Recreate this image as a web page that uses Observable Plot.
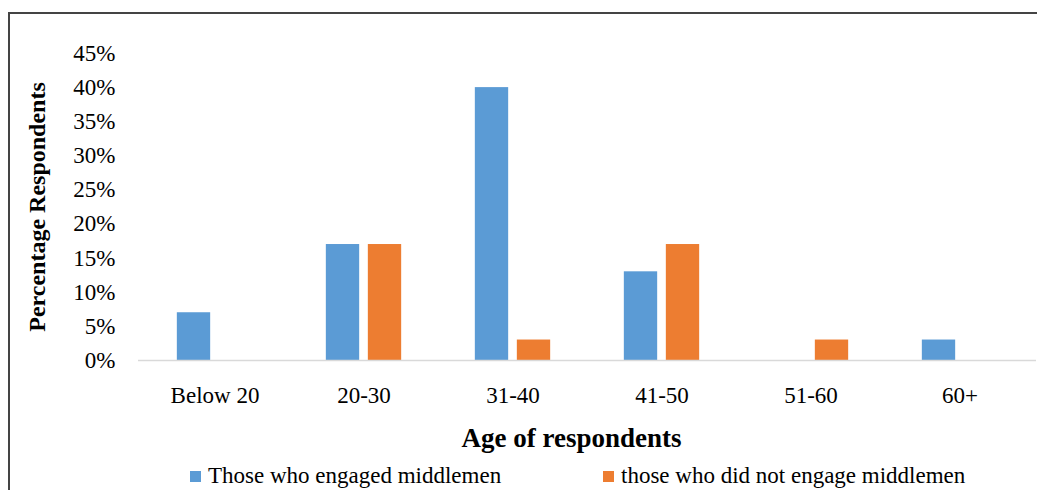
<!DOCTYPE html>
<html>
<head>
<meta charset="utf-8">
<script src="https://cdn.jsdelivr.net/npm/d3@7"></script>
<script src="https://cdn.jsdelivr.net/npm/@observablehq/plot@0.6"></script>
<style>
  html, body { margin: 0; padding: 0; background: #fff; overflow: hidden; }
  #wrap { position: relative; width: 1037px; height: 490px; overflow: hidden; font-family: "Liberation Serif", "Times New Roman", serif; }
  #frame { position: absolute; left: 8px; top: 12px; width: 1100px; height: 600px; border: 2.5px solid #444; box-sizing: border-box; pointer-events: none; }
  #chart { position: absolute; left: 0; top: 0; }
  #chart g[aria-label="x-axis label"] { translate: -16px 0; }
  #chart g[aria-label="x-axis label"] text { font-weight: bold; font-size: 27px !important; }
  #chart g[aria-label="y-axis label"] text { font-weight: bold; font-size: 24px !important; }
  #legend { position: absolute; top: 463px; left: 0; width: 1037px; height: 30px; font-size: 23px; color: #000; }
  .item { position: absolute; display: flex; align-items: center; white-space: nowrap; }
  .sw { width: 11px; height: 11px; margin-right: 7px; }
</style>
</head>
<body>
<div id="wrap">
  <div id="chart"></div>
  <div id="legend"></div>
  <div id="frame"></div>
</div>
<script>
const ages = ["Below 20", "20-30", "31-40", "41-50", "51-60", "60+"];
const seriesNames = ["Those who engaged middlemen", "those who did not engage middlemen"];
const engaged = [0.07, 0.17, 0.40, 0.13, 0, 0.03];
const notEngaged = [0, 0.17, 0.03, 0.17, 0.03, 0];
const yTicks = [0, 0.05, 0.10, 0.15, 0.20, 0.25, 0.30, 0.35, 0.40, 0.45];
const colors = ["#5b9bd5", "#ed7d31"];

const W = 1037, ML = 138, MR = 1;
const bw = (W - ML - MR) / ages.length;
const barW = 34, gap = 8;

const rowsA = ages.map((a, i) => ({age: a, value: engaged[i], series: seriesNames[0]}));
const rowsB = ages.map((a, i) => ({age: a, value: notEngaged[i], series: seriesNames[1]}));

const chart = Plot.plot({
  width: W,
  height: 455,
  marginLeft: ML,
  marginRight: MR,
  marginTop: 53,
  marginBottom: 95,
  style: {fontFamily: "'Liberation Serif', 'Times New Roman', serif", fontSize: "23px", color: "#000", background: "transparent"},
  x: {type: "band", domain: ages, padding: 0},
  y: {domain: [0, 0.45]},
  color: {domain: seriesNames, range: colors},
  marks: [
    Plot.barY(rowsA.filter(d => d.value > 0), {x: "age", y: "value", fill: "series",
      insetLeft: bw / 2 - gap / 2 - barW, insetRight: bw / 2 + gap / 2}),
    Plot.barY(rowsB.filter(d => d.value > 0), {x: "age", y: "value", fill: "series",
      insetLeft: bw / 2 + gap / 2, insetRight: bw / 2 - gap / 2 - barW}),
    Plot.ruleY([0], {stroke: "#d9d9d9", strokeWidth: 1.5}),
    Plot.axisY({ticks: yTicks, tickFormat: d3.format(".0%"), tickSize: 0, tickPadding: 23,
      label: "Percentage Respondents", labelAnchor: "center", labelOffset: 111, labelArrow: "none"}),
    Plot.axisX({tickSize: 0, tickPadding: 26, label: null}),
    Plot.axisX({ticks: [], tickSize: 0, label: "Age of respondents", labelAnchor: "center",
      labelOffset: 86, labelArrow: "none"})
  ]
});
document.getElementById("chart").appendChild(chart);

const legend = document.getElementById("legend");
const legendX = [190, 603];
seriesNames.forEach((name, i) => {
  const it = document.createElement("div");
  it.className = "item";
  it.style.left = legendX[i] + "px";
  const sw = document.createElement("span");
  sw.className = "sw";
  sw.style.background = colors[i];
  const tx = document.createElement("span");
  tx.textContent = name;
  it.appendChild(sw);
  it.appendChild(tx);
  legend.appendChild(it);
});
</script>
</body>
</html>
